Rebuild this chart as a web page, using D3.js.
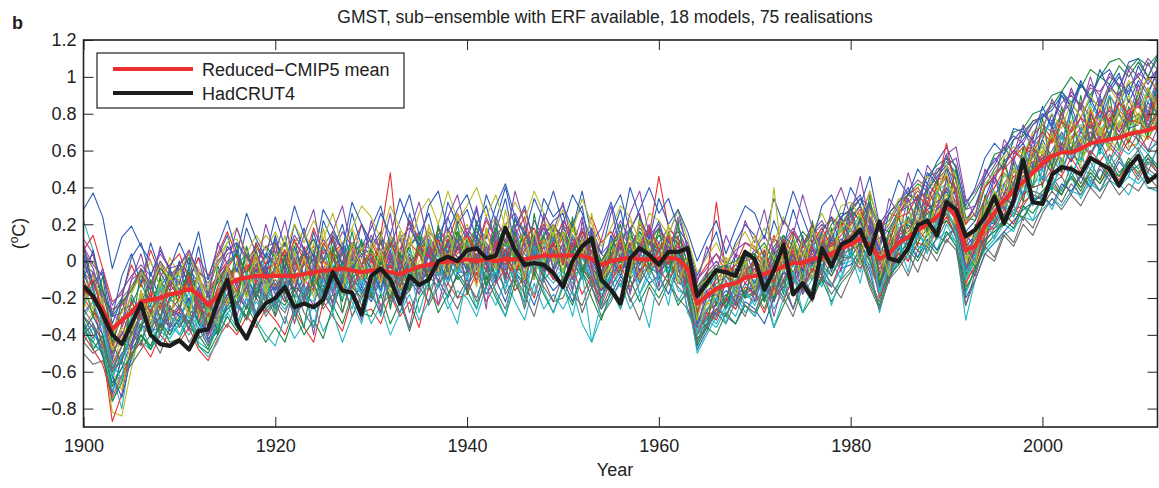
<!DOCTYPE html>
<html>
<head>
<meta charset="utf-8">
<script src="https://cdn.jsdelivr.net/npm/d3@7"></script>
<style>
  body { margin: 0; background: #fff; }
  svg { display: block; }
  text { font-family: "Liberation Sans", Arial, Helvetica, sans-serif; fill: #222; }
</style>
</head>
<body>
<svg id="chart" width="1159" height="488"></svg>
<script>
// GMST anomalies (°C), annual values 1900–2012
const firstYear = 1900;
const lastYear = 2012;
const xTicks = [1900, 1920, 1940, 1960, 1980, 2000];
const yTicks = [-0.8, -0.6, -0.4, -0.2, 0, 0.2, 0.4, 0.6, 0.8, 1, 1.2];

const titleText = "GMST, sub\u2212ensemble with ERF available, 18 models, 75 realisations";
const legendLabels = ["Reduced\u2212CMIP5 mean", "HadCRUT4"];

// Ensemble mean of the reduced CMIP5 set
const ensembleMean = [
  -0.15,-0.19,-0.26,-0.37,-0.32,-0.28,-0.22,-0.21,-0.20,-0.18,
  -0.17,-0.15,-0.18,-0.24,-0.19,-0.13,-0.10,-0.09,-0.08,-0.08,
  -0.08,-0.08,-0.08,-0.07,-0.06,-0.05,-0.05,-0.04,-0.05,-0.06,
  -0.05,-0.05,-0.06,-0.07,-0.05,-0.03,-0.02,-0.01,0.00,0.00,
  0.01,0.00,0.01,0.00,0.01,0.01,0.01,0.02,0.03,0.03,
  0.03,0.03,0.03,0.01,-0.02,0.00,0.01,0.02,0.01,0.01,
  0.01,0.02,0.01,-0.04,-0.23,-0.19,-0.15,-0.13,-0.12,-0.09,
  -0.08,-0.07,-0.05,-0.03,-0.01,-0.01,0.01,0.02,0.04,0.07,
  0.09,0.12,0.09,0.01,0.04,0.10,0.13,0.17,0.20,0.24,
  0.30,0.24,0.06,0.08,0.19,0.26,0.33,0.38,0.43,0.48,
  0.53,0.57,0.59,0.59,0.61,0.64,0.65,0.66,0.67,0.69,
  0.70,0.71,0.73
];

// Observed HadCRUT4
const hadcrut4 = [
  -0.135,-0.19,-0.29,-0.40,-0.45,-0.34,-0.23,-0.40,-0.45,-0.46,
  -0.43,-0.48,-0.38,-0.37,-0.22,-0.10,-0.34,-0.42,-0.30,-0.23,
  -0.20,-0.14,-0.25,-0.23,-0.25,-0.21,-0.06,-0.16,-0.17,-0.29,
  -0.08,-0.04,-0.10,-0.23,-0.08,-0.13,-0.10,0.00,0.025,0.00,
  0.06,0.07,0.015,0.03,0.18,0.06,-0.02,-0.01,-0.02,-0.065,
  -0.14,0.00,0.08,0.125,-0.10,-0.155,-0.23,0.015,0.07,0.035,
  -0.02,0.05,0.05,0.07,-0.19,-0.12,-0.05,-0.06,-0.08,0.05,
  0.01,-0.155,-0.05,0.09,-0.18,-0.12,-0.20,0.07,-0.03,0.09,
  0.115,0.17,0.04,0.215,0.015,0.00,0.07,0.195,0.22,0.14,
  0.32,0.28,0.135,0.17,0.24,0.35,0.205,0.33,0.55,0.32,
  0.31,0.47,0.51,0.50,0.47,0.56,0.53,0.50,0.41,0.51,
  0.57,0.43,0.47
];

// Individual realisations, in hundredths of °C
const realisations = [
  [28,37,24,-4,13,19,8,0,-14,-6, -20,-4,-12,-30,-8,8,2,-14,10,-2, 12,-6,4,18,-4,-18,6,20,-2,-14, 8,16,-12,4,22,6,-10,14,24,8, -6,20,30,10,-4,24,8,-10,14,22, 26,6,-8,18,-6,12,28,4,-12,10, 22,4,18,-2,-24,-6,-14,-22,4,-10, 2,-18,6,12,-10,8,20,-4,16,24, 28,14,32,-8,10,26,34,20,42,36, 50,34,14,8,30,46,36,58,64,52, 66,80,62,84,70,78,90,72,86,96, 84,76,98],
  [-2,4,-22,-50,-40,-26,-30,-36,-12,-26, -28,-6,-30,-40,-24,-4,4,-18,6,-14, -22,2,-16,8,-12,-24,4,10,-14,-20, -10,14,48,-4,-16,6,-12,12,-6,16, 6,-12,18,8,-10,14,24,2,-8,20, 10,22,-4,-10,-16,12,-6,18,26,4, -8,14,10,-10,-34,-26,-24,-4,-20,-18, 0,-20,-12,6,-14,10,-6,14,-2,22, 2,26,18,-10,14,24,8,34,22,38, 46,30,-4,18,30,22,52,40,60,62, 54,70,60,76,62,82,66,84,72,88, 74,90,80],
  [-30,-40,-44,-72,-52,-34,-44,-28,-40,-24, -36,-28,-26,-42,-36,-22,-24,-30,-12,-22, -2,-20,-28,-10,-4,-18,-8,-22,4,-6, -18,0,-14,-6,8,-12,10,-8,6,-6, 12,-8,4,18,2,-12,14,8,-8,6, -6,14,4,-14,-10,10,6,-8,12,-4, 6,-8,14,-18,-38,-34,-26,-20,-6,-20, -18,-4,-22,2,8,-14,0,-8,14,4, 18,8,24,-14,2,6,20,14,32,20, 34,24,-8,2,14,26,30,40,46,50, 52,56,68,58,54,66,70,60,76,64, 78,66,76],
  [22,6,-24,-62,-80,-46,-26,-18,-34,-10, -8,-28,-14,-26,-16,-4,-20,4,-12,-2, -16,4,-4,-20,-10,8,-2,-14,2,-12, 2,-16,-2,-18,-8,10,-4,6,-10,14, 6,12,-6,10,18,-2,8,-10,16,10, 12,-8,8,6,-14,2,14,16,-6,10, 0,12,-6,0,-28,-14,-8,-24,-18,0, -14,2,-8,-14,6,-6,10,0,4,18, 4,22,0,8,-8,18,20,26,14,36, 28,18,14,-2,30,36,42,30,54,56, 62,52,68,56,72,58,70,80,62,74, 78,82,70],
  [10,-14,-34,-44,-30,-40,-16,-34,-26,-30, -26,-10,-24,-36,-30,-18,0,-14,-20,4, -14,-22,2,-16,-24,-6,-18,6,-8,-16, -20,-8,-22,0,-14,-8,4,-12,10,-6, -6,8,-14,4,-8,12,-4,14,-2,6, 2,-10,14,-4,-16,-8,10,-2,-10,14, -8,2,-12,-10,-40,-26,-24,-12,-22,-6, -4,-22,0,-12,4,-10,8,14,-6,10, 14,4,20,6,-10,8,24,12,32,22, 34,38,4,0,14,36,24,50,36,58, 44,70,54,66,78,64,82,68,86,74, 88,72,92],
  [-36,-28,-34,-56,-42,-30,-20,-12,-26,-10, -10,-22,-6,-32,-14,-4,-18,0,-16,2, -2,-14,4,-12,0,-18,8,0,-16,-2, 6,-10,0,-16,2,-12,4,8,-8,10, 14,0,10,-10,12,2,-6,10,14,-4, 10,-4,6,14,-10,-6,4,10,6,-8, 10,6,-6,-8,-20,-24,-8,-2,-12,-2, -12,0,2,-10,-2,6,-6,10,14,2, 20,12,6,-6,14,4,10,28,14,38, 24,20,-4,18,16,26,40,46,34,48, 64,50,70,58,52,76,60,74,80,62, 64,78,84],
  [-44,-50,-46,-62,-50,-44,-34,-40,-30,-36, -28,-36,-24,-34,-40,-22,-18,-26,-14,-22, -12,-22,-10,-18,-8,-16,-4,-14,0,-18, -8,-14,0,-12,-8,-2,-6,6,-2,0, -8,4,-2,-12,6,-2,-8,4,-6,8, -2,10,-2,-10,-16,-4,2,-10,-2,6, -6,0,-12,-14,-36,-32,-26,-22,-16,-20, -16,-8,-20,-6,-12,-4,-10,2,-8,4, 2,10,-4,-14,-6,6,8,10,18,12, 22,14,-10,-4,10,18,22,28,30,38, 36,46,38,52,42,54,44,58,48,54, 60,48,62],
  [-30,-36,-52,-72,-52,-40,-28,-24,-36,-20, -18,-26,-32,-40,-24,-18,-12,-8,-20,-4, -16,-2,-20,-8,2,-14,-4,4,-10,-16, -2,-10,6,-14,2,-8,8,-4,10,2, -4,12,4,-8,6,16,-2,10,-6,6, 4,10,-6,2,-10,4,-8,10,2,-6, 0,8,-4,-12,-42,-36,-22,-16,-22,-12, -18,-8,-14,0,-10,4,-2,8,10,16, 22,30,16,4,14,26,30,34,38,46, 52,38,16,22,34,48,52,60,66,74, 78,82,90,84,96,88,100,104,94,108, 110,100,112],
  [-6,-12,-20,-26,-24,-14,-8,-14,-4,-10, -2,-12,-10,-16,-8,0,4,-6,4,-6, 0,6,-6,2,8,-4,4,-8,0,6, 0,10,-4,4,10,4,8,-2,12,4, 10,2,14,6,-2,10,16,4,12,0, 14,6,16,8,-2,6,12,0,8,16, 8,12,4,-2,-16,-10,-6,-2,-6,0, 2,-6,4,-4,8,0,4,-4,10,4, 10,14,6,-4,2,10,12,18,10,20, 26,18,-4,4,16,18,26,20,32,36, 34,42,36,46,40,48,42,52,44,54, 46,56,48],
  [8,-16,-32,-50,-20,-40,-4,-30,-8,-36, 0,-26,-6,-36,-2,-24,10,-20,6,-16, 10,-14,12,-12,6,-18,14,-10,16,-6, -12,12,-10,16,-6,10,-14,18,0,20, -4,22,6,-10,18,-2,20,-8,14,-4, 20,2,-10,14,-14,8,-6,18,-2,12, -10,16,0,-16,-30,-6,-24,-2,-20,4, -18,6,-14,12,-8,14,-10,16,0,22, 2,26,0,-14,16,-2,30,8,38,12, 46,16,-8,20,6,38,22,54,32,62, 40,74,48,82,54,78,58,90,60,84, 64,94,70],
  [-44,-36,-48,-76,-64,-54,-40,-46,-32,-40, -34,-28,-36,-46,-30,-24,-24,-16,-28,-14, -22,-12,-26,-16,-8,-20,-12,-18,-2,-12, -4,-18,0,-10,-16,-4,2,-8,4,-4, 6,-8,0,8,-4,4,-10,6,10,-2, -6,4,8,-2,-14,-8,4,-4,6,-8, 2,-6,0,-8,-46,-34,-28,-22,-26,-18, -10,-18,-8,-14,-2,-10,2,-4,6,-2, 10,16,2,-16,-2,14,6,18,26,20, 30,26,-10,0,20,18,32,38,44,40, 52,58,50,62,68,56,70,62,74,80, 68,80,72],
  [6,-4,-20,-30,-28,-10,-6,-20,-2,-14, -2,-6,-16,-22,-8,4,6,-8,8,-2, 4,10,-4,6,12,0,14,6,-4,8, 12,2,14,4,-4,8,16,10,18,6, 16,6,24,12,2,18,8,22,12,4, 18,12,2,16,0,10,22,12,2,16, 10,18,12,4,-14,-6,0,-8,4,0, 6,0,12,8,16,4,14,20,16,24, 28,34,24,12,20,30,36,32,46,48, 56,44,28,30,44,52,62,54,70,76, 78,86,80,92,84,96,90,102,94,106, 100,110,104],
  [-16,-26,-46,-82,-84,-58,-36,-26,-38,-22, -20,-12,-28,-34,-18,-14,-4,-20,-2,-14, -4,-16,-2,4,-14,0,-10,4,-8,2, -8,2,-12,-16,-2,6,-6,10,2,8, -2,10,-6,6,12,-6,6,-2,10,14, 6,-4,12,-8,-10,-2,10,6,-6,4, 6,-6,4,-12,-34,-32,-16,-24,-12,-6, -16,-2,0,-14,2,-8,8,-4,10,16, 12,20,6,-10,4,14,18,12,26,30, 36,24,-14,8,24,22,32,44,36,50, 54,48,62,68,58,70,74,62,76,66, 80,68,84],
  [-50,-56,-54,-66,-62,-56,-48,-40,-50,-36, -32,-44,-36,-46,-32,-26,-22,-32,-20,-28, -22,-28,-16,-24,-14,-22,-10,-20,-14,-8, -14,-6,-20,-16,-10,-4,-10,-2,-12,0, -2,-10,0,-8,2,-6,-14,0,-8,6, 0,-8,4,-6,-16,-10,-4,2,-8,-2, -4,2,-8,-16,-40,-34,-30,-20,-24,-18, -18,-22,-10,-16,-6,-14,-4,-10,0,4, 6,10,0,-18,-6,8,0,14,10,18, 26,12,-24,-6,12,16,22,30,22,34, 34,42,46,36,48,40,52,46,56,48, 58,50,46],
  [-6,-20,-28,-54,-34,-18,-30,-6,-22,-4, -16,2,-22,-24,-10,-2,-20,8,-10,-2, 2,-14,8,-8,16,-4,-12,10,0,20, 4,-10,12,-6,26,8,-4,14,4,22, 12,28,4,16,34,8,-2,14,-6,12, 6,20,30,0,-8,14,2,-6,10,18, -2,14,28,6,-18,-8,-16,0,-8,6, -8,-14,6,-4,12,-6,8,16,2,24, 12,24,18,2,16,6,22,30,16,38, 30,40,8,14,30,34,48,42,60,50, 66,56,76,64,60,80,72,66,88,76, 92,78,96],
  [-10,-22,-48,-87,-72,-46,-28,-18,-30,-16, -12,-22,-28,-36,-20,-12,-4,-10,-4,-12, -4,2,-12,-2,4,-10,0,8,-4,-10, 0,-8,4,-10,-2,4,-2,10,2,6, 10,-2,6,14,2,8,-4,6,12,2, 4,12,2,-4,-8,4,10,0,6,12, 2,8,0,-14,-44,-30,-20,-12,-16,-8, -6,-2,-12,2,0,8,2,10,2,10, 14,22,10,-14,0,16,22,16,30,30, 40,32,-6,8,22,30,36,46,48,54, 56,66,60,66,72,76,66,78,70,82, 86,76,88],
  [-22,-12,-26,-44,-26,-24,-12,-24,-10,-20, -16,-6,-20,-28,-10,-8,-2,4,-8,4, -2,6,-6,4,0,8,-4,4,10,-2, 6,-2,8,4,-8,6,12,4,14,6, 10,18,4,14,8,22,16,2,10,18, 14,4,16,10,-2,8,2,14,8,4, 14,8,2,-2,-16,-14,-4,-2,-8,2, 4,-4,8,14,2,10,16,8,20,26, 26,34,22,18,16,28,36,42,38,48, 54,48,24,22,40,50,58,66,68,76, 78,84,92,86,96,90,100,96,106,100, 108,100,110],
  [-32,-44,-32,-64,-50,-46,-34,-48,-40,-28, -40,-28,-44,-48,-36,-24,-34,-20,-30,-16, -26,-14,-30,-18,-22,-6,-22,-12,-26,-8, -20,-4,-24,-14,-2,-18,-8,0,-12,-2, -10,2,-14,-4,-16,4,-6,-18,2,-10, -4,-16,2,-10,-20,-6,-14,0,-18,-4, -12,0,-16,-18,-44,-30,-34,-24,-30,-16, -24,-12,-22,-4,-18,-10,-2,-14,0,-10, 4,-6,10,-20,-8,2,12,2,16,6, 20,10,-18,-4,6,12,20,16,30,22, 36,28,40,46,34,44,38,50,42,36, 48,40,38],
  [12,4,-16,-40,-22,-16,-4,-14,0,-12, -4,-10,2,-20,-6,-2,-14,4,-6,4, -2,10,-6,4,-8,6,2,-12,4,10, 2,-6,6,12,-4,8,4,-6,12,2, 4,14,-2,8,16,4,-4,10,18,6, 14,6,18,-2,-8,10,2,8,16,4, 10,0,8,-4,-28,-16,-12,-8,-2,-8, 2,-8,4,-2,8,0,14,4,10,2, 22,14,24,4,8,18,12,28,32,22, 40,28,4,14,28,24,42,50,42,62, 52,60,70,60,70,64,76,82,70,78, 86,74,80],
  [-22,-30,-34,-48,-44,-34,-28,-32,-24,-16, -22,-12,-28,-36,-22,-10,-18,-6,-2,-10, -14,-4,0,-12,-4,2,-8,-14,0,-6, -2,-12,-6,2,-10,0,6,-4,4,-6, 4,-4,8,-2,-8,6,10,0,-6,8, -2,8,-4,6,-8,-4,6,10,0,-6, 6,0,-6,-8,-26,-26,-18,-12,-16,-6, -6,-12,-4,4,-6,-2,6,0,8,12, 14,6,16,4,-4,12,16,22,18,26, 38,18,2,10,14,32,28,38,46,40, 60,48,60,66,54,64,72,66,60,76, 70,66,78],
  [-2,-6,-18,-28,-20,-14,-4,-12,0,-8, -2,4,-6,-12,-2,6,10,0,8,2, 10,2,10,4,-2,8,16,6,2,10, 6,14,4,-2,8,16,6,10,2,14, 8,16,10,2,18,8,12,4,20,10, 16,8,2,12,4,-2,10,18,8,12, 6,12,10,0,-16,-8,-2,-8,-2,2, 4,-4,6,10,0,8,14,6,16,20, 24,30,20,10,18,26,32,38,34,44, 50,44,20,26,40,46,54,60,56,70, 74,70,80,86,78,88,84,94,90,96, 100,92,102],
  [-40,-34,-50,-66,-58,-44,-30,-38,-36,-26, -30,-20,-34,-44,-38,-24,-18,-26,-12,-20, -24,-12,-30,-22,-8,-18,-26,-10,-20,-14, -22,-10,-16,-28,-12,-14,-4,-10,-20,-6, -14,-4,-18,-10,-22,-6,-12,-24,-8,-16, -10,-22,-6,-14,-26,-18,-8,-16,-4,-12, -8,-18,-4,-20,-48,-38,-26,-30,-34,-22, -26,-34,-20,-14,-26,-12,-18,-8,-14,-4, -2,6,-6,-26,-10,0,8,2,12,6, 14,18,-20,-10,4,10,16,22,28,32, 36,30,42,38,46,40,50,44,54,48, 52,58,50],
  [6,14,-4,-22,-18,-2,-14,6,-8,-2, 4,-10,2,-8,4,16,2,-6,10,-2, 8,-4,12,0,18,4,12,-2,8,20, 10,0,14,6,22,12,2,18,10,26, 14,6,22,12,0,18,28,10,20,8, 22,14,6,24,10,16,8,0,20,14, 46,18,12,6,-10,-2,4,-6,-2,10, 8,-2,14,2,16,8,20,10,24,18, 28,22,38,18,26,24,36,40,32,44, 46,38,20,30,40,46,52,60,54,68, 74,66,80,70,86,78,74,90,82,76, 88,100,92],
  [-38,-44,-50,-76,-66,-48,-40,-46,-34,-40, -30,-36,-40,-48,-34,-26,-22,-30,-16,-26, -20,-24,-14,-18,-10,-16,-22,-8,-14,-20, -14,-6,-20,-10,-16,-2,-8,-14,0,-10, -6,2,-10,-2,4,-6,-2,6,-10,-4, 2,-8,-4,-12,-20,-8,0,-6,2,-4, -6,0,-8,-14,-36,-32,-26,-18,-24,-16, -14,-12,-20,-6,-10,-16,-4,-2,-8,2, 2,10,0,-12,-2,4,10,6,14,18, 22,14,-6,2,12,16,20,26,24,32, 38,44,36,48,40,50,44,54,46,56, 50,58,52],
  [-4,-20,-30,-58,-46,-30,-20,-28,-12,-22, -10,-24,-8,-30,-20,-2,6,-8,-18,4, -6,-16,6,-12,-4,8,-14,10,-6,-18, 4,-10,10,-14,6,-6,12,-2,8,-8, 10,0,-8,14,4,18,0,10,-4,14, 0,14,6,-10,-12,12,-4,6,14,-2, 8,-6,6,-12,-36,-22,-20,-8,-16,-2, -8,-14,4,8,-8,4,10,0,12,18, 16,26,10,-10,6,20,22,30,22,38, 42,30,0,14,28,40,46,48,56,62, 68,76,66,80,72,86,76,90,80,94, 96,86,98],
  [-28,-22,-40,-58,-50,-46,-36,-26,-36,-30, -28,-34,-24,-40,-32,-20,-14,-24,-10,-18, -14,-6,-12,-20,-2,-10,-16,-6,4,-8, -16,-6,-14,0,-10,-18,4,-8,6,-4, -8,4,-6,8,-12,2,10,-6,8,-10, 4,-6,10,-8,-16,-12,2,8,-6,4, -6,8,2,-14,-38,-30,-26,-22,-14,-18, -14,-8,-18,-6,-12,-2,-10,4,-4,8, 10,2,16,-6,-2,14,8,20,16,28, 34,30,-2,-8,10,26,36,30,44,48, 50,56,62,54,64,58,68,64,58,70, 66,60,72],
  [-8,0,-14,-36,-28,-14,-10,0,-14,2, -8,2,-4,-14,-2,10,12,0,6,14, 8,-2,10,16,4,12,0,10,18,6, 12,2,14,6,-2,8,18,10,2,14, 20,6,16,24,12,4,18,10,22,14, 12,22,8,2,-2,8,16,22,12,6, 16,8,18,4,-14,-10,-4,2,-2,6, 0,8,2,10,4,-2,10,16,6,18, 22,16,28,10,14,24,20,30,36,32, 42,38,16,12,30,32,40,50,46,56, 60,68,62,70,74,66,78,72,82,74, 78,84,76],
  [-30,-36,-42,-58,-54,-40,-34,-26,-38,-30, -24,-34,-20,-36,-28,-20,-16,-26,-12,-20, -10,-18,-6,-22,-12,-4,-16,0,-10,-2, -12,0,-14,-8,4,-12,-4,6,-2,8, 4,-8,6,-4,12,4,-8,10,2,-6, 6,-2,-8,10,-12,-4,8,-6,4,10, -2,8,-8,-10,-32,-28,-14,-20,-10,-8, -16,-2,-10,0,-8,4,-6,8,4,12, 6,18,10,-12,6,12,16,22,18,28, 34,22,-4,10,20,28,34,30,44,40, 42,56,48,62,50,58,66,54,68,60, 70,60,64],
  [-38,-30,-40,-62,-74,-52,-36,-34,-22,-38, -32,-20,-34,-38,-28,-14,-24,-8,-20,-6, -18,-8,-16,0,-14,-6,2,-12,-4,4, -4,-16,2,-10,-2,-14,6,0,-10,8, 2,10,-2,-10,6,-2,12,4,-6,10, -2,6,12,-4,-10,2,-8,6,-2,10, 4,-4,6,-10,-34,-20,-18,-26,-12,-4, -12,0,-16,-6,4,-8,6,-4,12,6, 12,22,6,-14,4,8,24,14,28,32, 38,26,-6,6,22,20,34,42,36,52, 56,48,62,54,66,74,60,70,80,72, 74,86,80],
  [-20,-28,-32,-56,-46,-36,-18,-28,-16,-28, -20,-10,-26,-30,-16,-10,-16,-2,-12,-4, -2,-12,0,-10,-16,0,-4,-2,-14,-4, 2,-10,-2,-14,0,4,-8,6,8,-2, 8,-4,4,10,0,-8,6,12,2,10, -2,10,6,2,-6,2,-4,10,2,-4, 6,-2,10,-6,-28,-10,32,-6,-4,-12, -4,-10,0,-4,6,-2,8,0,10,10, 14,18,8,4,8,14,18,22,28,20, 34,24,10,4,22,30,34,40,46,50, 56,58,64,58,66,70,64,74,68,76, 76,70,80],
  [-2,-12,-16,-30,-22,-16,-6,-16,-4,-10, -6,2,-10,-16,-12,-2,4,-6,0,8, 2,10,-2,4,12,0,6,-4,10,4, 6,-2,12,2,8,14,4,0,10,16, 6,14,4,18,10,2,16,6,14,20, 12,4,16,10,0,8,14,4,16,10, 18,10,4,0,-14,-8,-4,-2,0,4, 4,10,0,14,8,16,10,18,22,20, 28,22,32,18,22,32,36,34,46,52, 56,52,28,36,46,58,60,70,72,80, 82,90,92,100,94,104,100,108,110,104, 110,106,112],
  [-36,-46,-48,-70,-62,-50,-44,-48,-38,-42, -34,-40,-32,-44,-36,-28,-24,-32,-22,-28, -20,-26,-18,-24,-16,-22,-14,-20,-12,-18, -14,-20,-10,-18,-12,-8,-16,-6,-10,-4, -8,-2,-12,-6,-14,-4,-10,-2,-6,-12, -6,-12,-2,-8,-18,-14,-6,-4,-12,-2, -8,-4,-10,-18,-50,-40,-30,-28,-22,-18, -22,-16,-12,-20,-10,-14,-8,-12,-4,-2, 0,4,-2,-28,-8,0,2,8,6,12, 16,10,-32,-10,4,10,14,18,24,22, 28,34,30,38,36,42,38,44,40,46, 42,48,44],
  [8,-2,-8,-24,-16,-8,-2,-8,4,-4, -2,6,-6,-10,0,6,10,2,-2,8, 10,2,14,6,0,12,4,16,8,2, 14,6,0,12,18,8,14,4,16,10, 18,10,4,14,20,26,16,8,18,12, 20,12,8,18,4,10,16,8,18,12, 18,10,16,6,-10,-4,4,-2,6,10, 6,14,4,10,18,8,16,22,12,24, 28,34,30,16,26,32,38,44,40,50, 52,56,32,38,48,54,62,68,64,74, 80,76,86,90,84,94,92,100,96,92, 102,98,104],
  [-26,-6,-34,-60,-70,-40,-16,-36,-12,-32, -10,-30,-8,-28,-6,-24,0,-20,2,-18, 4,-16,6,-14,10,-12,8,-18,6,-10, 10,-12,12,-10,14,-8,16,-6,18,-4, 14,-8,16,-2,20,-4,14,-10,12,0, 16,-8,12,-4,-14,10,-6,14,-10,12, 8,14,-6,-8,-40,-22,-28,-4,-20,0, -16,4,-18,10,-8,12,-10,14,4,18, 8,26,12,-10,10,18,22,32,14,36, 26,44,0,12,34,24,48,38,60,48, 72,54,78,64,60,84,68,80,72,88, 74,92,82],
  [-6,-20,-30,-44,-40,-26,-22,-12,-26,-10, -18,-8,-24,-26,-18,-8,-4,-14,-2,-10, -4,0,-10,-2,4,-8,0,4,-10,-2, 2,-8,0,-10,0,4,-6,6,2,-4, 6,-2,8,-4,6,10,4,-4,8,4, 8,4,-4,6,-6,4,8,-2,6,10, 6,8,2,-10,-26,-20,-16,-8,-14,-4, -2,-10,0,2,-6,4,-2,6,10,4, 14,18,12,-2,8,16,18,22,26,28, 34,30,4,12,24,30,36,40,46,50, 58,52,64,58,66,70,62,74,68,76, 80,72,82],
  [-10,6,-16,-30,-8,4,-12,10,-6,-16, 0,-14,8,-18,2,14,-6,18,4,-8, 14,-4,20,6,-8,22,10,-2,26,8, 18,30,8,22,36,14,26,6,32,20, 28,12,36,22,40,18,30,10,34,24, 30,18,38,14,4,26,36,16,28,40, 26,34,18,10,-8,4,16,-4,10,20, 14,2,22,8,28,12,-2,16,24,8, 30,36,20,6,26,32,40,28,48,42, 58,44,22,30,46,56,50,66,72,60, 80,74,92,84,98,86,104,92,100,90, 106,96,104],
  [-40,-48,-56,-74,-62,-50,-44,-52,-40,-46, -44,-36,-48,-54,-42,-34,-40,-30,-36,-26, -32,-40,-26,-36,-44,-22,-30,-38,-20,-28, -26,-34,-18,-30,-22,-36,-14,-24,-12,-20, -18,-6,-22,-12,-4,-16,-8,-20,-2,-10, -12,-4,-18,-8,-24,-10,-2,-14,-6,2, -4,-12,2,-18,-40,-28,-32,-20,-26,-14, -18,-28,-14,-22,-8,-16,-4,-10,-14,0, 2,-4,6,-20,-6,4,0,10,8,16, 24,14,-12,-2,14,20,28,24,36,40, 42,50,46,56,48,60,54,62,56,66, 60,68,64],
  [-12,-30,-8,-44,-56,-20,-38,-10,-32,-4, -26,-2,-34,-16,-40,-6,-24,8,-20,-2, -30,4,-20,-36,-6,-24,8,-28,-8,12, -20,6,-26,2,-16,14,-12,20,-6,16, -18,10,-14,22,-10,16,-20,26,-4,18, -12,24,-8,14,-24,6,20,-10,24,-4, 18,-10,22,-14,-30,-36,-6,-26,-4,-20, 4,-22,-2,-18,14,-12,22,-6,18,-2, 30,6,36,-12,2,24,8,36,16,44, 30,50,10,-4,36,20,56,34,62,40, 78,50,84,58,90,62,88,66,96,70, 92,68,96],
  [-30,-22,-36,-62,-52,-40,-30,-36,-44,-34, -40,-30,-46,-52,-44,-28,-36,-20,-32,-40, -46,-30,-42,-34,-24,-38,-28,-44,-30,-20, -34,-24,-40,-28,-18,-32,-22,-12,-26,-16, -20,-30,-14,-24,-10,-22,-32,-12,-26,-18, -26,-16,-34,-44,-30,-20,-12,-26,-18,-8, -16,-6,-22,-12,-40,-32,-36,-26,-18,-28, -20,-10,-26,-16,-6,-18,-10,-2,-14,-4, 6,-2,10,-16,-4,8,4,14,10,20, 28,16,-6,4,18,22,30,26,38,42, 46,40,52,48,56,50,60,54,62,58, 64,58,66],
  [-20,-6,-30,-52,-38,-48,-24,-40,-18,-36, -24,-38,-14,-44,-26,-6,-30,-10,-32,-2, -26,-4,-34,-12,-40,-8,-24,10,-18,-32, -6,-28,4,-20,-36,-10,6,-24,-2,12, -16,4,-26,16,-8,20,-12,8,24,-6, 10,-16,22,-4,-20,-10,14,-18,4,20, -14,12,-2,-26,-36,-16,-30,-10,-24,-2, -22,-6,-30,-10,4,-18,8,-8,16,-6, 26,8,30,0,-12,14,34,18,40,28, 44,40,6,0,20,46,28,56,42,66, 50,74,60,72,84,66,88,74,92,78, 96,80,100],
  [-16,-8,-24,-40,-32,-18,-6,-14,-2,-10, -6,4,-10,-16,2,10,18,4,14,6, 16,4,20,10,22,12,26,8,18,30, 24,12,30,18,8,26,34,20,38,22, 30,40,24,36,18,32,22,38,26,14, 28,16,34,20,8,18,30,24,10,26, 22,14,28,12,-6,2,10,-2,8,16, 6,18,10,24,12,2,16,26,14,30, 32,24,38,18,20,34,30,40,46,38, 52,46,22,26,42,48,56,62,58,70, 74,80,72,86,78,90,82,94,86,98, 90,100,94],
  [-34,-42,-30,-60,-54,-38,-46,-28,-40,-24, -36,-26,-42,-38,-30,-36,-22,-32,-16,-30, -22,-34,-14,-28,-36,-16,-26,-8,-30,-18, -10,-24,-18,-6,-28,-14,-22,-2,-16,-26, -12,-20,-4,-16,-26,-8,-18,-30,-10,-22, -20,-8,-28,-14,-30,-22,-10,-20,-32,-14, -24,-12,-20,-26,-42,-36,-28,-34,-22,-30, -16,-26,-12,-20,-30,-14,-22,-8,-18,-10, -4,8,-10,-22,-6,2,-8,6,0,14, 10,20,-14,-6,8,2,16,10,24,18, 30,38,32,42,36,46,38,48,40,52, 44,54,48],
  [4,-12,-6,-34,-20,2,10,-8,6,-4, 10,-2,16,-10,8,22,4,26,12,2, 24,8,30,14,2,28,18,6,32,20, 10,26,14,34,20,8,30,38,16,28, 36,20,12,30,42,24,14,34,22,38, 20,36,26,10,18,32,14,40,24,12, 34,20,28,16,0,12,22,4,18,30, 26,12,34,20,38,24,10,30,36,22, 40,30,46,20,28,44,36,50,42,54, 62,50,30,40,56,64,58,72,70,66, 84,72,90,80,96,88,78,94,102,86, 98,90,104],
  [-18,-10,-28,-46,-36,-22,-32,-16,-26,-12, -20,-8,-24,-30,-14,-2,-12,-4,2,-10, -6,6,-10,0,-8,10,2,-6,8,-2, 4,-6,10,0,-10,8,2,12,-2,6, 14,2,-4,10,6,-8,12,18,4,10, 0,8,16,4,-10,2,12,-4,8,18, 6,14,-2,-6,-24,-18,-10,-4,-14,-6, 0,6,-8,12,4,-4,10,18,8,14, 20,28,14,0,10,24,26,36,30,40, 64,36,10,18,34,40,50,56,62,58, 70,64,76,70,78,72,82,76,86,80, 84,78,90],
  [-34,-48,-40,-68,-58,-52,-40,-48,-34,-44, -42,-32,-46,-50,-40,-30,-38,-24,-34,-44, -36,-44,-28,-40,-32,-42,-24,-34,-18,-28, -30,-18,-34,-22,-38,-20,-12,-28,-18,-8, -16,-26,-8,-20,-30,-12,-22,-6,-18,-28, -14,-24,-6,-20,-32,-16,-26,-10,-22,-12, -20,-10,-24,-16,-46,-36,-40,-28,-34,-24, -30,-18,-36,-24,-14,-28,-20,-10,-22,-12, -6,4,-12,-24,-8,-2,6,0,10,4, 16,8,-16,-4,8,14,22,18,30,26, 34,40,36,46,38,48,42,50,46,54, 48,56,50],
  [-24,-14,-34,-56,-64,-30,-26,-40,-14,-30, -34,-16,-40,-24,-36,-12,-26,-6,-30,-10, -26,-8,-30,-14,-36,-10,-28,-2,-22,-34, -14,-30,-6,-24,-2,-28,-10,4,-22,-34, -8,-26,6,-18,-30,-4,-24,8,-16,-28, -12,-30,-6,-44,-22,-8,-26,4,-18,-36, -6,-24,4,-28,-38,-26,-20,-34,-10,-24, -30,-12,-36,-20,-6,-28,-14,-2,-24,-8, 4,-12,14,-18,-2,10,-6,18,4,22, 30,14,-10,2,22,12,34,24,42,30, 50,38,56,44,60,42,64,50,58,46, 62,52,60],
  [2,-16,-4,-28,-34,-10,4,-16,8,-6, -12,6,-8,-20,10,-2,18,2,-6,20, 4,22,-2,14,28,0,16,30,6,-4, 22,4,26,-6,16,32,10,-2,24,36, 14,30,2,24,10,38,20,-2,26,16, 32,8,24,-4,12,30,6,26,38,14, 20,2,24,8,-12,8,-6,14,2,22, 10,28,4,22,14,36,18,6,28,40, 24,46,20,8,34,26,48,30,52,44, 58,62,34,24,50,42,66,58,74,64, 70,88,76,94,82,100,84,96,88,104, 92,108,96],
  [-14,-26,-20,-48,-36,-42,-18,-30,-22,-8, -18,-30,-6,-26,-34,-2,-20,-12,4,-16, -8,14,-12,2,-20,18,-6,-16,10,-4, -12,6,-18,16,-2,-14,20,4,-8,26, 2,-14,18,-4,28,6,-10,16,-2,20, -6,18,2,26,-10,-2,16,-8,22,4, -4,20,-12,2,-32,-10,-18,2,-14,-4, 14,-8,40,-6,10,-12,18,2,-4,22, 18,-2,28,10,-8,30,14,24,8,36, 48,26,6,-2,28,38,30,50,40,62, 58,70,52,76,64,84,70,60,82,90, 78,94,84],
  [-26,-34,-44,-60,-46,-40,-28,-36,-30,-20, -26,-34,-22,-36,-28,-18,-24,-14,-28,-18, -30,-16,-26,-20,-12,-26,-18,-28,-10,-24, -18,-28,-10,-22,-16,-6,-24,-14,-4,-20, -10,-22,-14,2,-18,-8,-26,-4,-14,-22, -8,-18,-24,-10,-26,-14,-4,-22,-12,-2, -16,-6,-14,-20,-44,-34,-26,-30,-18,-24, -28,-14,-22,-10,-26,-8,-18,-4,-12,-20, -8,2,-14,-26,-10,-4,4,-6,8,0, 12,6,-24,-10,4,0,14,8,20,14, 26,34,28,36,30,40,34,44,36,42, 38,46,40]
];

const runColors = ["#2a5cb8", "#e8312f", "#1a8a3c", "#22b6c8", "#8a4aaa", "#b9bb25", "#6b6b6b"];
const meanColor = "#ec2e2e";
const obsColor = "#1c1c1c";

const svg = d3.select("#chart");
const margin = { left: 83.5, right: 1157.5, top: 40, bottom: 427 };

const x = d3.scaleLinear().domain([firstYear, lastYear]).range([margin.left, margin.right]);
const y = d3.scaleLinear().domain([-0.9, 1.2]).range([margin.bottom, margin.top]);

svg.append("defs").append("clipPath").attr("id", "plot-clip")
  .append("rect")
  .attr("x", margin.left).attr("y", margin.top)
  .attr("width", margin.right - margin.left).attr("height", margin.bottom - margin.top);

const line = d3.line()
  .x((d, i) => x(firstYear + i))
  .y(d => y(d));

const plot = svg.append("g").attr("clip-path", "url(#plot-clip)");

// Ensemble spaghetti
plot.selectAll("path.run")
  .data(realisations.map(r => r.map(v => v / 100)))
  .join("path")
  .attr("class", "run")
  .attr("d", line)
  .attr("fill", "none")
  .attr("stroke", (d, i) => runColors[i % runColors.length])
  .attr("stroke-width", 1.1)
  .attr("stroke-linejoin", "round");

// Ensemble mean and observations
plot.append("path").datum(ensembleMean)
  .attr("d", line).attr("fill", "none")
  .attr("stroke", meanColor).attr("stroke-width", 4.2)
  .attr("stroke-linejoin", "round");

plot.append("path").datum(hadcrut4)
  .attr("d", line).attr("fill", "none")
  .attr("stroke", obsColor).attr("stroke-width", 4.2)
  .attr("stroke-linejoin", "round");

// Axes with inward ticks on all four sides
const fmt = v => (v < 0 ? "\u2212" : "") + String(+Math.abs(v).toFixed(1));

function styleAxis(g) {
  g.select(".domain").remove();
  g.selectAll(".tick line").attr("stroke", "#222").attr("stroke-width", 1);
  g.selectAll(".tick text").attr("font-size", 18).attr("fill", "#222")
    .style("font-family", '"Liberation Sans", Arial, sans-serif');
}

svg.append("g").attr("transform", `translate(${margin.left},0)`)
  .call(d3.axisLeft(y).tickValues(yTicks).tickFormat(fmt).tickSize(-10).tickPadding(7))
  .call(styleAxis);
svg.append("g").attr("transform", `translate(${margin.right},0)`)
  .call(d3.axisRight(y).tickValues(yTicks).tickFormat("").tickSize(-10))
  .call(styleAxis);
svg.append("g").attr("transform", `translate(0,${margin.bottom})`)
  .call(d3.axisBottom(x).tickValues(xTicks).tickFormat(d3.format("d")).tickSize(-10).tickPadding(12))
  .call(styleAxis);
svg.append("g").attr("transform", `translate(0,${margin.top})`)
  .call(d3.axisTop(x).tickValues(xTicks).tickFormat("").tickSize(-10))
  .call(styleAxis);

// Plot frame
svg.append("rect")
  .attr("x", margin.left).attr("y", margin.top)
  .attr("width", margin.right - margin.left).attr("height", margin.bottom - margin.top)
  .attr("fill", "none").attr("stroke", "#222").attr("stroke-width", 1.6);

// Titles and labels
svg.append("text").attr("x", 605).attr("y", 23)
  .attr("text-anchor", "middle").attr("font-size", 17.5).text(titleText);

svg.append("text").attr("x", 12).attr("y", 29)
  .attr("font-size", 18).attr("font-weight", "bold").text("b");

svg.append("text").attr("x", 615).attr("y", 476)
  .attr("text-anchor", "middle").attr("font-size", 18).text("Year");

const yLab = svg.append("text")
  .attr("transform", `translate(25,${(margin.top + margin.bottom) / 2}) rotate(-90)`)
  .attr("text-anchor", "middle").attr("font-size", 18);
yLab.append("tspan").text("(");
yLab.append("tspan").attr("font-size", 12).attr("dy", -7).text("o");
yLab.append("tspan").attr("dy", 7).text("C)");

// Legend
const legend = svg.append("g");
legend.append("rect")
  .attr("x", 97).attr("y", 53).attr("width", 307).attr("height", 55)
  .attr("fill", "#fff").attr("stroke", "#222").attr("stroke-width", 1.2);
const legendItems = [
  { label: legendLabels[0], color: meanColor, yPos: 69 },
  { label: legendLabels[1], color: obsColor, yPos: 93 }
];
legendItems.forEach(item => {
  legend.append("line")
    .attr("x1", 113).attr("x2", 193).attr("y1", item.yPos).attr("y2", item.yPos)
    .attr("stroke", item.color).attr("stroke-width", 4.2);
  legend.append("text")
    .attr("x", 202).attr("y", item.yPos + 6.5)
    .attr("font-size", 18).text(item.label);
});
</script>
</body>
</html>
